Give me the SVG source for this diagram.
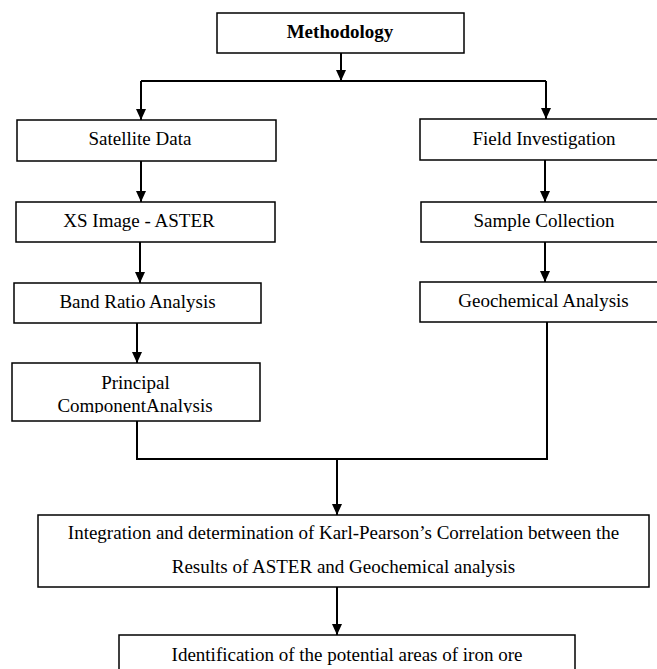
<svg xmlns="http://www.w3.org/2000/svg" width="657" height="669" viewBox="0 0 657 669">
<style>
.box{fill:#fff;stroke:#000;stroke-width:1.5}
.t{font-family:"Liberation Serif","Times New Roman",serif;font-size:19px;fill:#000;text-anchor:middle}
.b{font-weight:bold}
.c{fill:none;stroke:#000;stroke-width:2}
.a{marker-end:url(#ah)}
</style>
<defs>
<marker id="ah" markerUnits="userSpaceOnUse" viewBox="0 -5 11 10" markerWidth="11" markerHeight="10" refX="11" refY="0" orient="auto">
<path d="M0,-5 L11,0 L0,5 z" fill="#000"/>
</marker>
<clipPath id="pcaclip"><rect x="0" y="360" width="300" height="53"/></clipPath>
</defs>
<rect width="657" height="669" fill="#fff"/>
<g id="connectors">
<path class="c a" d="M341,53 V81"/>
<path class="c" d="M141,81 H546"/>
<path class="c a" d="M141,81 V120"/>
<path class="c a" d="M546,81 V119"/>
<path class="c a" d="M141,161 V202"/>
<path class="c a" d="M140,242 V283"/>
<path class="c a" d="M137,323 V363"/>
<path class="c a" d="M545,160 V202"/>
<path class="c a" d="M545,242 V282"/>
<path class="c" d="M547,322 V459 H137 V421"/>
<path class="c a" d="M337,459 V515"/>
<path class="c a" d="M337,587 V635"/>
</g>
<g id="methodology"><rect class="box" x="217" y="13" width="247" height="40"/><text class="t b" x="340" y="38">Methodology</text></g>
<g id="satellite"><rect class="box" x="17" y="120" width="259" height="41"/><text class="t" x="140" y="145">Satellite Data</text></g>
<g id="xs"><rect class="box" x="16" y="202" width="259" height="40"/><text class="t" x="139" y="227">XS Image - ASTER</text></g>
<g id="band"><rect class="box" x="14" y="283" width="247" height="40"/><text class="t" x="137.5" y="308">Band Ratio Analysis</text></g>
<g id="pca"><rect class="box" x="12" y="363" width="248" height="58"/><g clip-path="url(#pcaclip)"><text class="t" x="135.5" y="389">Principal</text><text class="t" x="135" y="412">ComponentAnalysis</text></g></g>
<g id="field"><rect class="box" x="420" y="119" width="260" height="41"/><text class="t" x="544" y="145">Field Investigation</text></g>
<g id="sample"><rect class="box" x="421" y="202" width="260" height="40"/><text class="t" x="544" y="227">Sample Collection</text></g>
<g id="geo"><rect class="box" x="420" y="282" width="260" height="40"/><text class="t" x="543.5" y="307">Geochemical Analysis</text></g>
<g id="integration"><rect class="box" x="38" y="515" width="611" height="72"/><text class="t" x="343.5" y="539">Integration and determination of Karl-Pearson’s Correlation between the</text><text class="t" x="343.5" y="573">Results of ASTER and Geochemical analysis</text></g>
<g id="identification"><rect class="box" x="119" y="635" width="456" height="50"/><text class="t" x="347" y="661">Identification of the potential areas of iron ore</text></g>
</svg>
